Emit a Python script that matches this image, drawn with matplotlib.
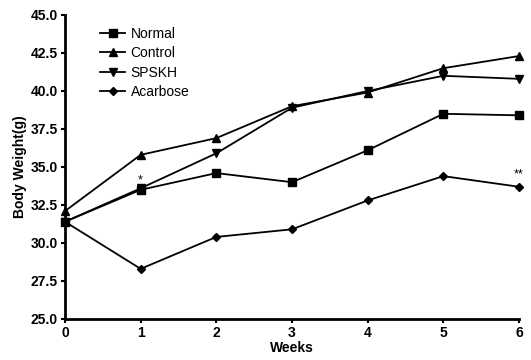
import matplotlib
matplotlib.use("Agg")
import matplotlib.pyplot as plt

plt.rcParams['font.family'] = ['Liberation Sans', 'DejaVu Sans']

weeks = [0, 1, 2, 3, 4, 5, 6]
normal = [31.4, 33.5, 34.6, 34.0, 36.1, 38.5, 38.4]
control = [32.1, 35.8, 36.9, 39.0, 39.9, 41.5, 42.3]
spskh = [31.4, 33.6, 35.9, 38.9, 40.0, 41.0, 40.8]
acarbose = [31.4, 28.3, 30.4, 30.9, 32.8, 34.4, 33.7]

y_ticks = [25.0, 27.5, 30.0, 32.5, 35.0, 37.5, 40.0, 42.5, 45.0]

fig = plt.figure(figsize=(5.31, 3.6), dpi=100)
ax = fig.add_axes([65 / 531, 1 - 319 / 360, (519 - 65) / 531, (319 - 15) / 360])

ax.plot(weeks, normal, color='black', marker='s', markersize=6, lw=1.3, label='Normal')
ax.plot(weeks, control, color='black', marker='^', markersize=6, lw=1.3, label='Control')
ax.plot(weeks, spskh, color='black', marker='v', markersize=6, lw=1.3, label='SPSKH')
ax.plot(weeks, acarbose, color='black', marker='D', markersize=4.5, lw=1.3, label='Acarbose')

ax.text(1, 33.75, '*', ha='center', va='bottom', fontsize=9)
ax.text(6, 34.1, '**', ha='center', va='bottom', fontsize=9)

ax.set_xlim(0, 6)
ax.set_ylim(25, 45)
ax.set_xticks(weeks)
ax.set_yticks(y_ticks)
ax.set_yticklabels([f'{v:.1f}' for v in y_ticks])
ax.spines['top'].set_visible(False)
ax.spines['right'].set_visible(False)
ax.spines['left'].set_linewidth(2)
ax.spines['bottom'].set_linewidth(2)
ax.tick_params(width=1.5, length=3, labelsize=10, pad=2)
for lbl in ax.get_xticklabels() + ax.get_yticklabels():
    lbl.set_fontweight('bold')
for ln in ax.lines:
    ln.set_clip_on(False)

ax.set_xlabel('Weeks', fontweight='bold', fontsize=10, labelpad=1)
ax.set_ylabel('Body Weight(g)', fontweight='bold', fontsize=10, labelpad=3)

ax.legend(loc='upper left', bbox_to_anchor=(0.065, 0.98), frameon=False,
          fontsize=10, handlelength=1.8, handletextpad=0.4,
          labelspacing=0.4, borderaxespad=0)

fig.savefig('out.png', dpi=100)
